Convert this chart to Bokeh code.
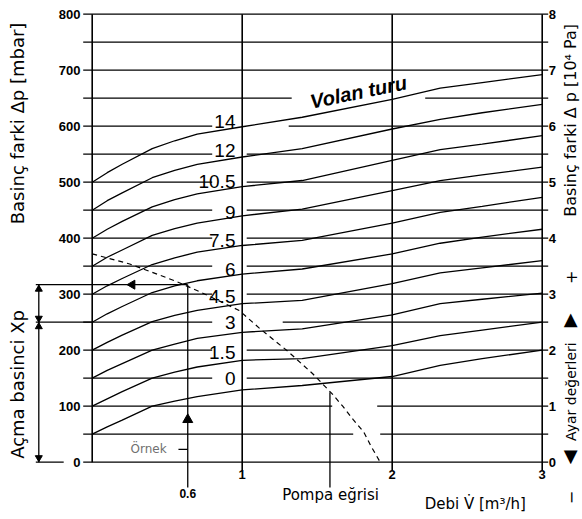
import numpy as np
from bokeh.plotting import figure
from bokeh.models import Range1d
from bokeh.core.properties import value
from bokeh.embed import file_html
from bokeh.resources import INLINE

# ---------------- data ----------------
flow = [0.0, 0.1, 0.2, 0.4, 0.55, 0.7, 1.0, 1.4, 2.0, 2.32, 2.6, 3.0]   # m3/h
curve_labels = ["0", "1.5", "3", "4.5", "6", "7.5", "9", "10.5", "12", "14"]
curve_0    = [50, 63, 75, 100, 109, 117, 129, 137, 153, 173, 185, 200]
curve_1_5  = [100, 113, 126, 150, 161, 170, 182, 185, 208, 226, 236, 250]
curve_3    = [150, 164, 176, 200, 211, 221, 232, 238, 263, 283, 291, 302]
curve_4_5  = [200, 214, 227, 251, 262, 271, 283, 289, 319, 338, 347, 360]
curve_6    = [250, 265, 278, 303, 315, 324, 336, 345, 372, 391, 402, 416]
curve_7_5  = [300, 315, 328, 353, 365, 375, 387, 396, 427, 446, 457, 473]
curve_9    = [350, 366, 379, 405, 417, 427, 440, 452, 485, 503, 513, 527]
curve_10_5 = [400, 416, 430, 456, 469, 479, 492, 503, 539, 558, 568, 583]
curve_12   = [450, 467, 481, 508, 521, 532, 545, 560, 595, 612, 624, 639]
curve_14   = [500, 517, 532, 560, 574, 586, 599, 616, 648, 668, 678, 692]
curves = [curve_0, curve_1_5, curve_3, curve_4_5, curve_6,
          curve_7_5, curve_9, curve_10_5, curve_12, curve_14]
label_levels = [150, 200, 250, 300, 350, 400, 450, 500, 550, 600]  # mbar

pump_flow = [0.0, 0.25, 0.41, 0.55, 0.72, 0.98, 1.12, 1.30, 1.47, 1.60, 1.67, 1.74, 1.81, 1.86, 1.92]
pump_dp   = [372, 354, 338, 324, 304, 271, 238, 199, 158, 122, 100, 76, 54, 28, 0]

example_flow = 0.637          # drawn position of the "0.6" example
example_label = "0.6"
example_dp = 317              # opening pressure of the example
setpoint_dp = 250
pump_label_flow = 1.585
pump_label_dp = 125

left_ticks = [0, 100, 200, 300, 400, 500, 600, 700, 800]
left_tick_labels = ["0", "100", "200", "300", "400", "500", "600", "700", "800"]
right_tick_labels = ["0", "1", "2", "3", "4", "5", "6", "7", "8"]
x_ticks = [1, 2, 3]
x_tick_labels = ["1", "2", "3"]
grid_levels = list(range(0, 801, 50))

# ---------------- figure: frame covers whole canvas ----------------
PX_X = 150.0    # px per m3/h
PX_Y = 0.56     # px per mbar
X0 = -91.7 / PX_X
X1 = X0 + 582 / PX_X
Y0 = -(519 - 461.7) / PX_Y
Y1 = Y0 + 519 / PX_Y

p = figure(width=582, height=519, x_range=Range1d(X0, X1), y_range=Range1d(Y0, Y1),
           output_backend="svg", toolbar_location=None, min_border=0,
           x_axis_location=None, y_axis_location=None)
p.grid.visible = False
p.outline_line_color = None
p.background_fill_color = "white"
p.border_fill_color = "white"

K = "#000000"
LW = 1.3

# ---------------- horizontal grid with gaps ----------------
gx0, gx1, gy = [], [], []
for lv in grid_levels:
    segs = [(-0.06, 3.04)]
    if lv in label_levels:
        start_right = 1.03
        if lv == 600:
            start_right = 1.31
        if lv == 250:
            start_right = 1.27
        segs = [(-0.06, 0.80), (start_right, 3.04)]
    elif lv == 650:
        segs = [(-0.06, 1.33), (2.22, 3.04)]
    elif lv == 100:
        segs = [(-0.06, 1.60), (1.90, 3.04)]
    elif lv == 50:
        segs = [(-0.06, 1.74), (1.92, 3.04)]
    for a, b in segs:
        gx0.append(a); gx1.append(b); gy.append(lv)
p.segment(x0=gx0, y0=gy, x1=gx1, y1=gy, line_color=K, line_width=LW)

# vertical lines / axes
p.segment(x0=[0], y0=[0], x1=[0], y1=[800], line_color=K, line_width=1.6)
p.segment(x0=x_ticks, y0=[-15] * 3, x1=x_ticks, y1=[800] * 3, line_color=K, line_width=1.6)

# ---------------- characteristic curves ----------------
for c in curves:
    p.line(flow, c, line_color=K, line_width=LW)

# pump curve
p.line(pump_flow, pump_dp, line_color=K, line_width=1.2, line_dash="5 4")

# ---------------- example construction ----------------
bx = -0.356
p.segment(x0=[bx - 0.02, bx - 0.02, bx - 0.02], y0=[example_dp, setpoint_dp, 0],
          x1=[example_flow, 0, -0.19], y1=[example_dp, setpoint_dp, 0],
          line_color=K, line_width=LW)
p.segment(x0=[bx], y0=[0], x1=[bx], y1=[example_dp], line_color=K, line_width=LW)
p.scatter([bx, bx], [309, 242], marker="triangle", size=7, color=K)
p.scatter([bx, bx], [257, 8], marker="inverted_triangle", size=7, color=K)
p.segment(x0=[example_flow], y0=[example_dp], x1=[example_flow], y1=[-45], line_color=K, line_width=LW)
p.scatter([example_flow], [76], marker="triangle", size=10, color=K)
p.scatter([0.267], [example_dp], marker="triangle", size=9, angle=np.pi / 2, color=K)
p.segment(x0=[0.575], y0=[23], x1=[example_flow], y1=[23], line_color=K, line_width=LW)
p.segment(x0=[pump_label_flow], y0=[pump_label_dp], x1=[pump_label_flow], y1=[-45],
          line_color=K, line_width=LW)

# ---------------- texts ----------------
TICKF = value("Liberation Sans")
p.text(x=[-0.078] * 9, y=left_ticks, text=left_tick_labels, text_font=TICKF,
       text_font_style="bold", text_font_size="13px", text_align="right",
       text_baseline="middle", text_color=K)
p.text(x=[3.044] * 9, y=left_ticks, text=right_tick_labels, text_font=TICKF,
       text_font_style="bold", text_font_size="13px", text_align="left",
       text_baseline="middle", text_color=K)
p.text(x=x_ticks, y=[-22] * 3, text=x_tick_labels, text_font=TICKF,
       text_font_style="bold", text_font_size="13px", text_align="center",
       text_baseline="middle", text_color=K)
p.text(x=[example_flow], y=[-55], text=[example_label], text_font=TICKF,
       text_font_style="bold", text_font_size="12px", text_align="center",
       text_baseline="middle", text_color=K)

label_y = [149, 196, 249, 296, 344, 396, 446, 502, 556, 608]
p.text(x=[0.955] * 10, y=label_y, text=curve_labels,
       text_font=value("Liberation Sans"), text_font_size="19px",
       text_align="right", text_baseline="middle", text_color=K)

p.text(x=[1.775], y=[661], text=["Volan turu"], angle=0.2,
       text_font=value("Liberation Sans"), text_font_style="bold italic",
       text_font_size="20px", text_align="center", text_baseline="middle", text_color=K)

F = value("DejaVu Sans")
p.text(x=[1.589], y=[-58], text=["Pompa eğrisi"], text_font=F, text_font_size="15px",
       text_align="center", text_baseline="middle", text_color=K)
p.text(x=[2.57], y=[-74], text=["Debi  V\u0307 [m³/h]"], text_font=F, text_font_size="15px",
       text_align="center", text_baseline="middle", text_color=K)
p.text(x=[0.376], y=[23], text=["Örnek"], text_font=F, text_font_size="12px",
       text_align="center", text_baseline="middle", text_color="#707070")

p.text(x=[-0.498], y=[610], text=["Basinç farki  Δp [mbar]"], angle=np.pi / 2,
       text_font=F, text_font_size="18px", text_align="center", text_baseline="middle",
       text_color=K)
p.text(x=[-0.498], y=[144], text=["Açma basinci  Xp"], angle=np.pi / 2,
       text_font=F, text_font_size="18px", text_align="center", text_baseline="middle",
       text_color=K)
p.text(x=[3.189, 3.189, 3.189], y=[615, 330, -63],
       text=["Basinç farki  Δ p [10⁴ Pa]", "+", "−"], angle=np.pi / 2,
       text_font=F, text_font_size="16px", text_align="center", text_baseline="middle",
       text_color=K)
p.text(x=[3.189], y=[126], text=["Ayar değerleri"], angle=np.pi / 2,
       text_font=F, text_font_size="14px", text_align="center", text_baseline="middle",
       text_color=K)
p.text(x=[3.189, 3.189], y=[256, 12], text=["▲", "▼"], text_font=F, text_font_size="18px",
       text_align="center", text_baseline="middle", text_color=K)

open("out.html", "w").write(file_html(p, INLINE))
